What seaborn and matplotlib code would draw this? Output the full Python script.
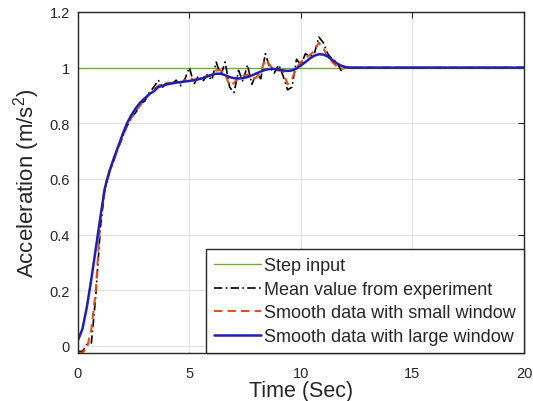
import matplotlib
matplotlib.use("Agg")
import matplotlib.pyplot as plt
import seaborn as sns
import pandas as pd

# Sample times (s): 0.2 s spacing up to 12.4 s, then the settled tail
time = [0.0, 0.2, 0.4, 0.6, 0.8, 1.0, 1.2, 1.4, 1.6, 1.8,
        2.0, 2.2, 2.4, 2.6, 2.8, 3.0, 3.2, 3.4, 3.6, 3.8,
        4.0, 4.2, 4.4, 4.6, 4.8, 5.0, 5.2, 5.4, 5.6, 5.8,
        6.0, 6.2, 6.4, 6.6, 6.8, 7.0, 7.2, 7.4, 7.6, 7.8,
        8.0, 8.2, 8.4, 8.6, 8.8, 9.0, 9.2, 9.4, 9.6, 9.8,
        10.0, 10.2, 10.4, 10.6, 10.8, 11.0, 11.2, 11.4, 11.6, 11.8,
        12.0, 12.2, 12.4, 13.0, 20.0]

step_input = [1.0, 1.0, 1.0, 1.0, 1.0, 1.0, 1.0, 1.0, 1.0, 1.0,
              1.0, 1.0, 1.0, 1.0, 1.0, 1.0, 1.0, 1.0, 1.0, 1.0,
              1.0, 1.0, 1.0, 1.0, 1.0, 1.0, 1.0, 1.0, 1.0, 1.0,
              1.0, 1.0, 1.0, 1.0, 1.0, 1.0, 1.0, 1.0, 1.0, 1.0,
              1.0, 1.0, 1.0, 1.0, 1.0, 1.0, 1.0, 1.0, 1.0, 1.0,
              1.0, 1.0, 1.0, 1.0, 1.0, 1.0, 1.0, 1.0, 1.0, 1.0,
              1.0, 1.0, 1.0, 1.0, 1.0]

mean_experiment = [-0.02, -0.02, 0.005, 0.01, 0.18, 0.42, 0.56, 0.62, 0.665, 0.71,
                   0.75, 0.79, 0.82, 0.84, 0.87, 0.88, 0.91, 0.93, 0.955, 0.93,
                   0.95, 0.94, 0.955, 0.935, 0.96, 1.00, 0.94, 0.97, 0.95, 0.975,
                   0.955, 1.02, 0.97, 1.02, 0.93, 0.91, 0.99, 0.95, 1.01, 0.94,
                   0.98, 0.96, 1.05, 1.00, 0.98, 1.01, 0.97, 0.92, 0.93, 1.03,
                   1.01, 1.05, 1.04, 1.05, 1.11, 1.09, 1.05, 1.03, 1.02, 0.99,
                   1.0, 1.0, 1.0, 1.0, 1.0]

smooth_small = [-0.025, -0.025, -0.01, 0.06, 0.20, 0.45, 0.57, 0.625, 0.67, 0.71,
                0.75, 0.79, 0.82, 0.845, 0.865, 0.885, 0.905, 0.92, 0.935, 0.94,
                0.945, 0.945, 0.95, 0.945, 0.955, 0.965, 0.955, 0.96, 0.965, 0.97,
                0.975, 0.99, 0.99, 0.975, 0.935, 0.945, 0.965, 0.97, 0.975, 0.955,
                0.965, 0.985, 1.03, 1.01, 0.99, 0.99, 0.985, 0.94, 0.96, 1.0,
                1.02, 1.035, 1.045, 1.06, 1.09, 1.07, 1.04, 1.02, 1.005, 0.995,
                1.0, 1.0, 1.0, 1.0, 1.0]

smooth_large = [0.02, 0.06, 0.14, 0.24, 0.35, 0.46, 0.565, 0.625, 0.672, 0.716,
                0.76, 0.80, 0.83, 0.855, 0.875, 0.89, 0.905, 0.915, 0.93, 0.935,
                0.94, 0.943, 0.946, 0.948, 0.95, 0.952, 0.955, 0.958, 0.962, 0.968,
                0.974, 0.978, 0.978, 0.973, 0.966, 0.962, 0.961, 0.962, 0.966, 0.972,
                0.979, 0.986, 0.992, 0.995, 0.995, 0.993, 0.99, 0.988, 0.99, 0.997,
                1.008, 1.02, 1.033, 1.043, 1.048, 1.047, 1.04, 1.028, 1.016, 1.007,
                1.002, 1.0, 1.0, 1.0, 1.0]

labels = ["Step input", "Mean value from experiment",
          "Smooth data with small window", "Smooth data with large window"]
x_ticks = [0, 5, 10, 15, 20]
y_ticks = [0, 0.2, 0.4, 0.6, 0.8, 1.0, 1.2]
y_tick_labels = ["0", "0.2", "0.4", "0.6", "0.8", "1", "1.2"]

df = pd.DataFrame({"time": time, "step": step_input, "mean": mean_experiment,
                   "small": smooth_small, "large": smooth_large})

sns.set_style("white")
plt.rcParams["font.family"] = ["Liberation Sans", "DejaVu Sans"]
plt.rcParams["mathtext.fontset"] = "custom"
plt.rcParams["mathtext.rm"] = "Liberation Sans"
plt.rcParams["mathtext.it"] = "Liberation Sans:italic"

fig = plt.figure(figsize=(5.33, 4.02), dpi=100)
ax = fig.add_axes([0.1463, 0.1194, 0.8367, 0.8483])

sns.lineplot(data=df, x="time", y="step", ax=ax, color="#77AC30",
             linewidth=1.0, label=labels[0])
sns.lineplot(data=df, x="time", y="mean", ax=ax, color="black",
             linewidth=1.2, linestyle=(0, (5, 2, 1, 2)), label=labels[1])
sns.lineplot(data=df, x="time", y="small", ax=ax, color="#D95319",
             linewidth=1.5, linestyle=(0, (4, 2.5)), label=labels[2])
sns.lineplot(data=df, x="time", y="large", ax=ax, color="#1F1FB4",
             linewidth=1.8, label=labels[3])

ax.set_xlim(0, 20)
ax.set_ylim(-0.026, 1.2)
ax.set_xticks(x_ticks)
ax.set_yticks(y_ticks)
ax.set_yticklabels(y_tick_labels)
ax.grid(True, color="#E0E0E0", linewidth=0.8)
ax.set_axisbelow(True)
for sp in ax.spines.values():
    sp.set_visible(True)
    sp.set_color("#262626")
    sp.set_linewidth(1.0)
ax.tick_params(direction="in", length=4, width=0.8, top=True, right=True,
               labelsize=10.5, colors="#262626", pad=6)
ax.tick_params(axis="x", pad=9)

ax.set_xlabel("Time (Sec)", fontsize=15.5, color="#262626", labelpad=0)
ax.set_ylabel("Acceleration (m/s$^2$)", fontsize=16, color="#262626", labelpad=5)

leg = ax.legend(loc="lower right", borderaxespad=0, fontsize=13,
                frameon=True, fancybox=False, handlelength=2.6,
                handletextpad=0.15, labelspacing=0.36, borderpad=0.45)
leg.get_frame().set_edgecolor("#262626")
leg.get_frame().set_linewidth(1.0)
leg.get_frame().set_alpha(1.0)

fig.savefig("out.png", dpi=100)
